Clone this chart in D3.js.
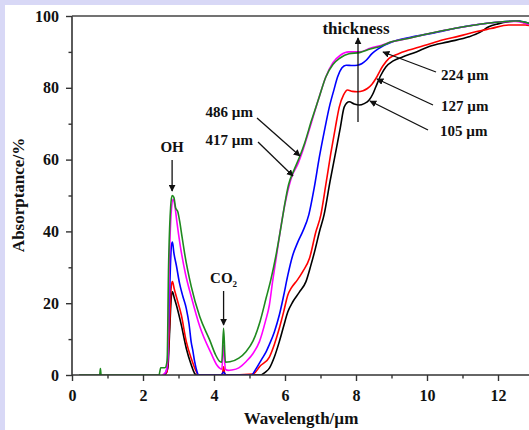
<!DOCTYPE html>
<html lang="en">
<head>
<meta charset="UTF-8">
<title>Absorptance spectra</title>
<script src="https://d3js.org/d3.v7.min.js"></script>
<style>
    body { margin: 0; background: #d8d8f6; }
    svg { display: block; }
    text { font-family: "Liberation Serif", "Times New Roman", serif; font-weight: bold; fill: #111; }
</style>
</head>
<body>
<script>
// --- data (wavelength in µm, absorptance in %) ---
const wl486 = [0.2,0.78,0.8,0.82,2.45,2.5,2.62,2.68,2.72,2.78,2.82,2.87,2.92,2.98,3.03,3.1,3.17,3.36,3.6,3.88,4.05,4.16,4.22,4.27,4.32,4.45,4.7,4.9,5.1,5.3,5.47,5.6,5.75,5.9,6.0,6.1,6.25,6.4,6.55,6.75,6.95,7.15,7.35,7.55,7.8,8.1,8.4,8.7,9.0,9.5,10.0,10.8,11.7,12.5,12.75,13];
const ab486 = [0,0,1.8,0,0,2,2,4,30,47,50,49.5,46.5,45.5,43,38.5,34,24.6,16.2,9.7,5.5,3.8,3.6,13,3.6,3.7,4.7,6.5,9.5,15,21.5,26.5,33.5,42,48,53,57,60.5,64.5,71,77,83,86.5,88.3,89.5,89.8,90.8,91.6,92.8,93.8,95,96.6,98,98.6,98.3,97.5];

const wl417 = [2.55,2.65,2.7,2.74,2.8,2.85,2.9,2.95,3.05,3.2,3.36,3.6,3.92,4.08,4.16,4.22,4.27,4.32,4.4,4.5,4.7,4.9,5.1,5.28,5.45,5.56,5.65,5.75,5.93,6.05,6.2,6.35,6.5,6.75,6.95,7.15,7.35,7.55,7.8,8.1,8.4,8.7,9.0,9.5,10.0,10.8,11.7,12.5,12.75,13];
const ab417 = [0,1,5,30,46,49,47,43,36,28,21.8,13.5,6,2.8,1.9,1.6,8.3,1.6,1.3,1.4,2,3.7,6,9.3,15,19.5,26,32.5,44,50,55.5,58.5,62.5,70.5,77,83,87,89,90,90,91,91.8,92.8,93.8,95,96.6,98,98.5,98,97.2];

const wl224 = [2.6,2.68,2.74,2.8,2.83,2.87,2.94,3.03,3.12,3.22,3.3,3.36,3.4,3.45,3.52,3.56,4.2,4.27,4.34,5.05,5.2,5.35,5.47,5.56,5.7,5.84,5.96,6.08,6.22,6.36,6.5,6.67,6.82,6.97,7.1,7.25,7.38,7.48,7.6,7.72,7.9,8.04,8.16,8.28,8.45,8.65,9.03,9.59,10.2,10.8,11.7,12.5,12.75,13];
const ab224 = [0,2,20,36,37,34,30.5,25.5,22,18.5,14,9,7,4,1,0,0,0.8,0,0,2,4.5,6.5,8.5,12,16.7,22,27.8,33.4,37,40,44.6,52,60.8,67.5,74.7,79.5,83,85.5,86.3,86.2,86.3,86.7,87.6,89.5,91,92.8,94.2,95.3,96.6,98,98.6,98.3,97.5];

const wl127 = [2.6,2.68,2.74,2.8,2.83,2.88,2.94,3.08,3.22,3.36,3.5,3.56,4.2,4.24,4.27,4.3,4.34,5.1,5.3,5.56,5.7,5.84,5.96,6.08,6.17,6.35,6.5,6.69,6.87,7.01,7.15,7.29,7.42,7.53,7.65,7.76,7.9,8.04,8.2,8.32,8.45,8.56,8.75,8.93,9.2,9.49,10.0,10.43,10.9,11.37,11.8,12.3,12.77,13];
const ab127 = [0,1,12,25,26,24,21.8,16.7,9.3,4.6,1,0,0,0.5,2.3,0.5,0,0.3,2.5,5,8.5,13,17.5,22.3,24.1,26.5,28.8,32.5,39.9,44.6,53,61.7,69,74.7,78,79.4,79,78.9,79.2,79.8,81,82.6,86,88.2,89.5,90.5,92,93.3,94.4,95.6,96.5,97.5,97.5,97];

const wl105 = [2.62,2.7,2.75,2.8,2.83,2.88,2.94,3.08,3.22,3.36,3.45,3.5,5.3,5.45,5.56,5.7,5.84,5.96,6.08,6.22,6.4,6.59,6.73,6.85,6.97,7.1,7.27,7.44,7.56,7.67,7.81,7.95,8.09,8.23,8.37,8.47,8.56,8.7,8.84,9.05,9.31,9.7,10.06,10.6,11.18,11.5,11.74,12.0,12.3,12.55,12.77,13];
const ab105 = [0,2,12,22,23.2,21.5,19.5,13.9,7.4,2.8,0.5,0,0,0.8,1.9,5,9.3,13.5,17.6,20.4,23,26,30.6,35,39.9,44.6,54,62.7,69,74.7,76.1,75.5,75.2,75.6,76.6,78.2,80.3,83.5,85.8,87.5,88.6,90,91.5,92.8,94.2,95.5,97,97.8,98.4,98.6,98,97.3];

const seriesNames = ["105 µm", "127 µm", "224 µm", "417 µm", "486 µm"];
const seriesColors = ["#000000", "#ff0000", "#0000ff", "#ff00ff", "#1f8a1f"];
const seriesX = [wl105, wl127, wl224, wl417, wl486];
const seriesY = [ab105, ab127, ab224, ab417, ab486];

const xMajor = [0, 2, 4, 6, 8, 10, 12];
const xMinor = [1, 3, 5, 7, 9, 11];
const yMajor = [0, 20, 40, 60, 80, 100];
const yMinor = [10, 30, 50, 70, 90];

// --- layout ---
const W = 529, H = 430;
const mLeft = 72, mTop = 16, mBottom = 375;

const svg = d3.select("body").append("svg")
    .attr("width", W).attr("height", H);

// white panel inside the lavender frame
svg.append("rect").attr("x", 5).attr("y", 5)
    .attr("width", W - 5).attr("height", H - 5).attr("fill", "#ffffff");

const x = d3.scaleLinear().domain([0, 13]).range([mLeft, mLeft + 13 * 35.5]);
const y = d3.scaleLinear().domain([0, 100]).range([mBottom, mTop]);

svg.append("defs").append("marker")
    .attr("id", "arr")
    .attr("viewBox", "0 0 10 10")
    .attr("refX", 9).attr("refY", 5)
    .attr("markerWidth", 7).attr("markerHeight", 7)
    .attr("markerUnits", "userSpaceOnUse")
    .attr("orient", "auto")
    .append("path").attr("d", "M0,0 L10,5 L0,10 z").attr("fill", "#111");

svg.append("clipPath").attr("id", "plotclip")
    .append("rect").attr("x", mLeft).attr("y", mTop)
    .attr("width", W - mLeft).attr("height", mBottom - mTop);

// curves
const line = d3.line()
    .x(d => x(d[0]))
    .y(d => y(d[1]))
    .curve(d3.curveMonotoneX);

const curves = svg.append("g").attr("clip-path", "url(#plotclip)");
seriesNames.forEach((name, i) => {
    const pts = d3.zip(seriesX[i], seriesY[i]);
    curves.append("path")
        .datum(pts)
        .attr("fill", "none")
        .attr("stroke", seriesColors[i])
        .attr("stroke-width", 1.6)
        .attr("stroke-linejoin", "round")
        .attr("d", line);
});

// axes
const axisColor = "#333";
const xAxis = svg.append("g").attr("transform", `translate(0,${mBottom})`)
    .call(d3.axisBottom(x).tickValues(xMajor).tickSize(6).tickPadding(9).tickFormat(d3.format("d")));
svg.append("g").attr("transform", `translate(0,${mBottom})`)
    .call(d3.axisBottom(x).tickValues(xMinor).tickSize(3.5).tickFormat(""))
    .call(g => g.select(".domain").remove());
const yAxis = svg.append("g").attr("transform", `translate(${mLeft},0)`)
    .call(d3.axisLeft(y).tickValues(yMajor).tickSize(6).tickPadding(7).tickFormat(d3.format("d")));
svg.append("g").attr("transform", `translate(${mLeft},0)`)
    .call(d3.axisLeft(y).tickValues(yMinor).tickSize(3.5).tickFormat(""))
    .call(g => g.select(".domain").remove());

svg.selectAll(".domain").attr("stroke", axisColor).attr("stroke-width", 1.6);
svg.selectAll(".tick line").attr("stroke", axisColor).attr("stroke-width", 1.4);
svg.selectAll(".tick text")
    .attr("font-family", "Liberation Serif, serif")
    .attr("font-weight", "bold")
    .attr("font-size", 16)
    .attr("fill", "#111");
// plain axis lines without end caps
xAxis.select(".domain").attr("d", `M${mLeft},0H${W}`);
yAxis.select(".domain").attr("d", `M0,${mBottom}V${mTop}`);

// top frame line
svg.append("line")
    .attr("x1", mLeft).attr("x2", W)
    .attr("y1", mTop).attr("y2", mTop)
    .attr("stroke", "#444").attr("stroke-width", 1.6);

// axis titles
svg.append("text")
    .attr("x", 301).attr("y", 424)
    .attr("text-anchor", "middle")
    .attr("font-size", 17)
    .text("Wavelength/µm");
svg.append("text")
    .attr("transform", `translate(24,195) rotate(-90)`)
    .attr("text-anchor", "middle")
    .attr("font-size", 17)
    .text("Absorptance/%");

// annotations
function arrow(x1, y1, x2, y2) {
    svg.append("line")
        .attr("x1", x1).attr("y1", y1).attr("x2", x2).attr("y2", y2)
        .attr("stroke", "#111").attr("stroke-width", 1.3)
        .attr("marker-end", "url(#arr)");
}
function label(tx, ty, str, anchor, size) {
    svg.append("text").attr("x", tx).attr("y", ty)
        .attr("text-anchor", anchor || "start")
        .attr("font-size", size || 15)
        .text(str);
}

// OH and CO2 markers
label(x(2.82), 152, "OH", "middle");
arrow(x(2.82), 160, x(2.82), 191);
const co2 = svg.append("text").attr("x", x(4.27)).attr("y", 283)
    .attr("text-anchor", "middle").attr("font-size", 15);
co2.append("tspan").text("CO");
co2.append("tspan").attr("font-size", 9).attr("dy", 4).text("2");
arrow(x(4.27), 291, x(4.27), 325);

// thickness arrow
label(356, 34, "thickness", "middle", 17);
arrow(358, 122, 358, 38);

// labels for thick samples (right side)
label(441, 80, seriesNames[2]);
arrow(436, 72, 383, 52);
label(441, 111, seriesNames[1]);
arrow(433, 105, 377, 79);
label(440, 136, seriesNames[0]);
arrow(428, 130, 370, 101);

// labels for thin-film pair (left side)
label(253, 117, seriesNames[4], "end");
arrow(257, 118, 300, 156);
label(253, 145, seriesNames[3], "end");
arrow(258, 142, 293, 176);
</script>
</body>
</html>
